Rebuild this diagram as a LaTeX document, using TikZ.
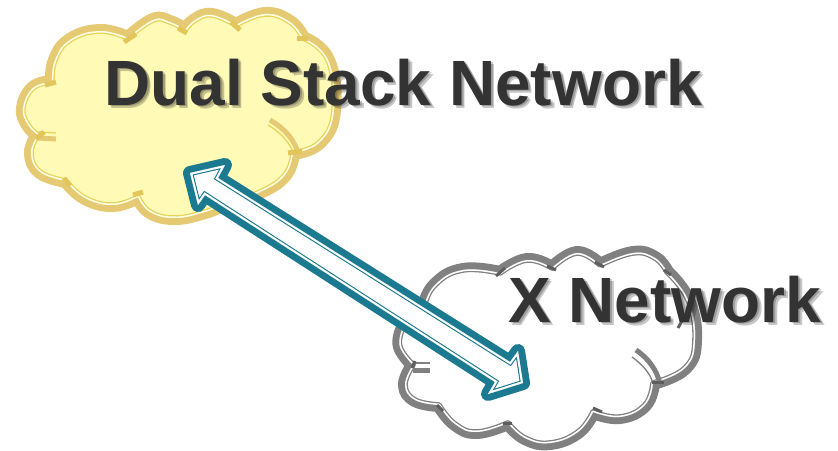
\documentclass[tikz,border=0pt]{standalone}
\usepackage{fontspec}
\setmainfont{Liberation Sans}
\definecolor{tanband}{HTML}{E5C973}
\definecolor{tanline}{HTML}{E9D35A}
\definecolor{tanfill}{HTML}{FFFBB7}
\definecolor{tantick}{HTML}{E2C65C}
\definecolor{greyband}{HTML}{808080}
\definecolor{greytick}{HTML}{5E5E5E}
\definecolor{teal}{HTML}{1B7A90}
\definecolor{textdark}{HTML}{333333}
\newcommand{\cloudA}{plot[smooth,tension=.75] coordinates{(128,38)(100,31)(70,40)(55,60)(52,82)}
 -- plot[smooth,tension=.75] coordinates{(52,82)(33,88)(23,108)(28,125)(38,135)}
 -- plot[smooth,tension=.75] coordinates{(38,135)(31,153)(40,172)(66,181)}
 -- plot[smooth,tension=.75] coordinates{(66,181)(85,198)(113,205)(138,197)}
 -- plot[smooth,tension=.75] coordinates{(138,197)(150,212)(175,218)(205,212)(222,205)}
 -- plot[smooth,tension=.75] coordinates{(222,205)(260,192)(285,175)(293,153)}
 -- plot[smooth,tension=.75] coordinates{(293,153)(320,142)(334,110)(328,60)(303,38)}
 -- plot[smooth,tension=.75] coordinates{(303,38)(290,22)(265,14)(236,25)}
 -- plot[smooth,tension=.75] coordinates{(236,25)(212,15)(195,20)(185,30)}
 -- plot[smooth,tension=.75] coordinates{(185,30)(170,22)(153,20)(128,38)} -- cycle}
\newcommand{\cloudB}{plot[smooth,tension=.75] coordinates{(500,273)(463,270)(435,285)(420,312)(402,330)}
 -- plot[smooth,tension=.75] coordinates{(402,330)(400,347)(413,365)}
 -- plot[smooth,tension=.75] coordinates{(413,365)(405,385)(415,400)(439,405)}
 -- plot[smooth,tension=.75] coordinates{(439,405)(455,424)(477,432)(508,423)}
 -- plot[smooth,tension=.75] coordinates{(508,423)(525,438)(550,443)(578,432)(593,412)}
 -- plot[smooth,tension=.75] coordinates{(593,412)(620,417)(645,405)(653,383)}
 -- plot[smooth,tension=.75] coordinates{(653,383)(685,368)(695,340)(688,300)(667,272)}
 -- plot[smooth,tension=.75] coordinates{(667,272)(655,258)(633,253)(600,265)}
 -- plot[smooth,tension=.75] coordinates{(600,265)(577,253)(552,268)}
 -- plot[smooth,tension=.75] coordinates{(552,268)(527,260)(500,273)} -- cycle}
\newcommand{\arrowshape}{(190,173) -- (225,165) -- (218,178) -- (510,362) -- (518,351) -- (523,383) -- (488,394) -- (495,382) -- (205,195) -- (198,205) -- cycle}
\tikzset{
  x=1pt,y=-1pt,
  band/.style={line width=14pt,line join=round},
  tick/.style={line width=5pt,line cap=butt},
  innerarc/.style={line width=5pt,line cap=butt},
  title/.style={inner sep=0pt,anchor=base west,font=\fontsize{64}{64}\selectfont\bfseries,text=textdark},
  shadowtext/.style={title,text=black,text opacity=.22}
}
\begin{document}
\begin{tikzpicture}
\useasboundingbox (0,0) rectangle (838,450);
% yellow cloud
\draw[band,tanband] \cloudA;
\begin{scope}
  \clip \cloudA;
  \fill[tanfill] (0,0) rectangle (838,450);
  \draw[tanline,line width=5.6pt,line join=round] \cloudA;
  \draw[white!70!tanfill,line width=3pt,line join=round] \cloudA;
\end{scope}
\draw[innerarc,tanband] (270,120) .. controls (287,130) and (295,142) .. (298,153);
\draw[tanline,line width=1.3pt] (268,125) .. controls (283,134) and (291,145) .. (293,153);
\draw[innerarc,tanband] (38,138) -- (56,139);
\draw[tanline,line width=1.3pt] (38,132) -- (56,133);
\foreach \a/\b in {{124,42}/{136,34},{178,28}/{187,33},{231,22}/{240,30},{297,38}/{308,38},{45,85}/{56,82},{36,139}/{44,132},{64,178}/{70,186},{133,195}/{143,192},{288,153}/{302,151}}
  \draw[tick,tantick] (\a) -- (\b);
% grey cloud
\draw[band,greyband] \cloudB;
\begin{scope}
  \clip \cloudB;
  \fill[white] (0,0) rectangle (838,450);
  \draw[greyband,line width=5.6pt,line join=round] \cloudB;
  \draw[white,line width=3pt,line join=round] \cloudB;
\end{scope}
\draw[innerarc,greyband] (636,350) .. controls (648,358) and (657,370) .. (660,384);
\draw[greyband,line width=1.3pt] (632,357) .. controls (642,364) and (651,374) .. (653,384);
\draw[innerarc,greyband] (413,370) -- (430,370);
\draw[greyband,line width=1.3pt] (413,363) -- (430,363);
\foreach \a/\b in {{496,276}/{505,268},{547,266}/{556,270},{595,262}/{604,267},{664,270}/{671,275},{678,328}/{686,314},{415,361}/{412,368},{437,405}/{443,411},{503,423}/{512,423},{593,408}/{602,412},{652,382}/{664,382}}
  \draw[tick,greytick,line width=3pt] (\a) -- (\b);
% titles
\node[shadowtext] (dualshadowa) at (106,106.5) {Dual Stack Network};
\node[shadowtext] (dualshadowb) at (107.5,108) {Dual Stack Network};
\node[title] (dual) at (104,105) {Dual Stack Network};
\node[shadowtext] (xshadowa) at (510,323.5) {X Network};
\node[shadowtext] (xshadowb) at (511.5,325) {X Network};
\node[title] (xnet) at (508,322) {X Network};
% double arrow
\draw[band,teal] \arrowshape;
\begin{scope}
  \clip \arrowshape;
  \fill[white] (0,0) rectangle (838,450);
  \draw[teal,line width=6.2pt,line join=miter] \arrowshape;
  \draw[white,line width=4pt,line join=miter] \arrowshape;
\end{scope}
\end{tikzpicture}
\end{document}
